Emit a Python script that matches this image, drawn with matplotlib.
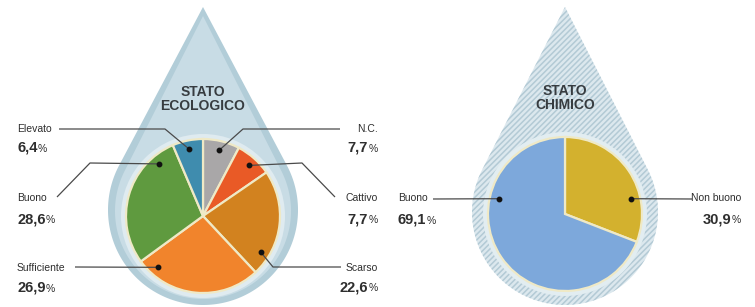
import numpy as np
import matplotlib
matplotlib.use('Agg')
import matplotlib.pyplot as plt
from matplotlib.patches import Circle, PathPatch
from matplotlib.path import Path

W, H = 755, 307

# data
eco_labels = ['N.C.', 'Cattivo', 'Scarso', 'Sufficiente', 'Buono', 'Elevato']
eco_values = [7.7, 7.7, 22.6, 26.9, 28.6, 6.4]
eco_colors = ['#a9a7a8', '#e95a26', '#d2821f', '#f1842c', '#5f9a3f', '#3f8cae']

chem_labels = ['Non buono', 'Buono']
chem_values = [30.9, 69.1]
chem_colors = ['#d3b12e', '#7da8db']

# layout (pixel coords, y from top)
eco_center = (203, 216)
chem_center = (565, 214)
pie_r = 77
eco_dot_ang = [76, 48, -32, -131, 130, 101.5]
chem_dot_ang = [13, 167]
dot_r = 68

eco_text = {  # x, y label, y number, alignment
    'N.C.': (378, 129, 148, 'right'),
    'Cattivo': (378, 198, 219, 'right'),
    'Scarso': (378, 268, 287, 'right'),
    'Sufficiente': (17, 268, 288, 'left'),
    'Buono': (17, 198, 219, 'left'),
    'Elevato': (17, 129, 148, 'left'),
}
eco_elbows = {
    'N.C.': [(243, 129), (340, 129)],
    'Cattivo': [(302, 163), (335, 197)],
    'Scarso': [(273, 267), (341, 267)],
    'Sufficiente': [(75, 267)],
    'Buono': [(90, 163), (57, 197)],
    'Elevato': [(165, 129), (59, 129)],
}
chem_text = {
    'Non buono': (741, 198, 219, 'right'),
    'Buono': (398, 198, 220, 'left'),
}
chem_elbows = {
    'Non buono': [(692, 199)],
    'Buono': [(433, 199)],
}

txt_col = '#2e2e2e'
line_col = '#4a4a4a'

plt.rcParams['font.family'] = ['Liberation Sans', 'DejaVu Sans']
plt.rcParams['hatch.linewidth'] = 1.1

fig = plt.figure(figsize=(W / 100, H / 100), dpi=100)
fig.patch.set_facecolor('white')
ax = fig.add_axes([0, 0, 1, 1])


def Y(y):
    return H - y


def drop_path(cx, tip_y, cy, r, n=160):
    d = Y(tip_y) - Y(cy)
    a = np.arccos(r / d)
    th = np.linspace(np.pi / 2 - a, np.pi / 2 + a - 2 * np.pi, n)
    xs = cx + r * np.cos(th)
    ys = Y(cy) + r * np.sin(th)
    verts = [(cx, Y(tip_y))] + list(zip(xs, ys)) + [(cx, Y(tip_y))]
    return Path(verts, closed=True)


# drops
ax.add_patch(PathPatch(drop_path(203, 7, 210, 95), facecolor='#b2cdd8', lw=0, zorder=0.3))
ax.add_patch(PathPatch(drop_path(203, 16, 211, 88), facecolor='#c8dce5', lw=0, zorder=0.4))
ax.add_patch(PathPatch(drop_path(565, 7, 212, 93), facecolor='#dce8ee', edgecolor='#b3cad5',
                       hatch='//////', lw=0, zorder=0.3))

# rings round pies
ax.add_patch(Circle((eco_center[0], Y(eco_center[1])), pie_r + 5, facecolor='#dfebf0', lw=0, zorder=0.6))
ax.add_patch(Circle((chem_center[0], Y(chem_center[1])), pie_r + 5, facecolor='#e2edf1', lw=0, zorder=0.6))

ax.pie(eco_values, colors=eco_colors, startangle=90, counterclock=False,
       center=(eco_center[0], Y(eco_center[1])), radius=pie_r,
       wedgeprops=dict(edgecolor='#efe9c6', linewidth=1.6))
ax.pie(chem_values, colors=chem_colors, startangle=90, counterclock=False,
       center=(chem_center[0], Y(chem_center[1])), radius=pie_r,
       wedgeprops=dict(edgecolor='#efe9c6', linewidth=1.6))

ax.set_xlim(0, W)
ax.set_ylim(0, H)
ax.set_aspect('equal')
ax.axis('off')

# titles
ax.text(203, Y(99), 'STATO\nECOLOGICO', ha='center', va='center', fontsize=10,
        fontweight='bold', color='#373c40', linespacing=1.0)
ax.text(565, Y(98), 'STATO\nCHIMICO', ha='center', va='center', fontsize=10,
        fontweight='bold', color='#373c40', linespacing=1.0)

renderer = fig.canvas.get_renderer()
inv = ax.transData.inverted()


def value_text(x, y, val, ha):
    num = f'{val:.1f}'.replace('.', ',')
    if ha == 'left':
        t = ax.text(x, Y(y) - 4, num, ha='left', va='baseline', fontsize=10.5,
                    fontweight='bold', color=txt_col)
        bb = t.get_window_extent(renderer)
        x2 = inv.transform((bb.x1, 0))[0]
        ax.text(x2 + 0.5, Y(y) - 4, '%', ha='left', va='baseline', fontsize=7.5, color=txt_col)
    else:
        p = ax.text(x, Y(y) - 4, '%', ha='right', va='baseline', fontsize=7.5, color=txt_col)
        bb = p.get_window_extent(renderer)
        x2 = inv.transform((bb.x0, 0))[0]
        ax.text(x2 - 0.5, Y(y) - 4, num, ha='right', va='baseline', fontsize=10.5,
                fontweight='bold', color=txt_col)


def annotate(labels, values, center, angles, texts, elbows):
    for lab, val, ang in zip(labels, values, angles):
        dx = center[0] + dot_r * np.cos(np.radians(ang))
        dy = Y(center[1]) + dot_r * np.sin(np.radians(ang))
        pts = [(dx, dy)] + [(px, Y(py)) for px, py in elbows[lab]]
        ax.plot([p[0] for p in pts], [p[1] for p in pts], color=line_col, lw=0.9,
                solid_capstyle='butt', zorder=3)
        ax.plot(dx, dy, 'o', color='#111111', ms=3.2, zorder=4)
        x, ly, ny, ha = texts[lab]
        ax.text(x, Y(ly), lab, ha=ha, va='center', fontsize=7.5, color=txt_col)
        value_text(x, ny, val, ha)


annotate(eco_labels, eco_values, eco_center, eco_dot_ang, eco_text, eco_elbows)
annotate(chem_labels, chem_values, chem_center, chem_dot_ang, chem_text, chem_elbows)

fig.savefig('out.png', dpi=100, facecolor='white')
